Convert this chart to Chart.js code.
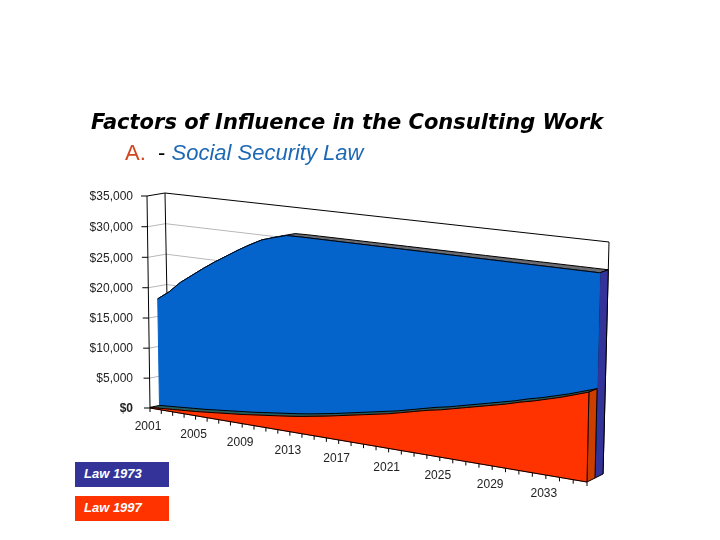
<!DOCTYPE html>
<html>
<head>
<meta charset="utf-8">
<script src="https://cdn.jsdelivr.net/npm/chart.js@4/dist/chart.umd.min.js"></script>
<style>
body { margin: 0; background: #fff; }
#wrap { position: relative; width: 720px; height: 540px; overflow: hidden; }
#wrap div { position: absolute; white-space: nowrap; }
#title { left: 91px; top: 110px; font: italic bold 21px "DejaVu Sans"; color: #000; }
#sub { left: 125px; top: 140px; font: 22px "Liberation Sans"; }
.key { left: 75px; width: 94px; height: 25px; line-height: 24px; color: #fff; font: italic bold 13px/24px "Liberation Sans"; text-indent: 9px; }
</style>
</head>
<body>
<div id="wrap">
  <canvas id="mycanvas" width="720" height="540"></canvas>
  <div id="title">Factors of Influence in the Consulting Work</div>
  <div id="sub"><span style="color:#d2451e">A.</span>&nbsp; - <span style="color:#1c68b4;font-style:italic">Social Security Law</span></div>
  <div class="key" style="top:462px;background:#333399">Law 1973</div>
  <div class="key" style="top:496px;background:#ff3300">Law 1997</div>
</div>
<script>
var years = [];
for (var yr = 2001; yr <= 2036; yr++) years.push(String(yr));

var law1973 = [17900, 19300, 21100, 22500, 23900, 25200, 26400, 27600, 28700, 29700, 30300, 30850,
               30900, 30900, 30900, 30900, 30900, 30900, 30900, 30900, 30900, 30900, 30900, 30900,
               30900, 30900, 30900, 30900, 30900, 30900, 30900, 30900, 30900, 30900, 30900, 30900];
var law1997 = [100, 250, 400, 550, 700, 900, 1100, 1300, 1500, 1750, 2000, 2250,
               2500, 2800, 3150, 3500, 3900, 4300, 4700, 5100, 5500, 6000, 6500, 7000,
               7400, 7900, 8400, 8900, 9400, 9900, 10500, 11000, 11600, 12200, 12900, 13600];

// corners of the front and back planes: bottom left, bottom right, top right, top left
var frontQuad = [[150, 408], [587, 482], [592, 248], [147, 196]];
var backQuad = [[169, 404], [603, 474], [609, 242], [165, 193]];

var makeHomography = function(q) {
    var dx1 = q[1][0] - q[2][0], dx2 = q[3][0] - q[2][0], sx = q[0][0] - q[1][0] + q[2][0] - q[3][0];
    var dy1 = q[1][1] - q[2][1], dy2 = q[3][1] - q[2][1], sy = q[0][1] - q[1][1] + q[2][1] - q[3][1];
    var den = dx1 * dy2 - dx2 * dy1;
    var g = (sx * dy2 - dx2 * sy) / den;
    var h = (dx1 * sy - sx * dy1) / den;
    return function(u, v) {
        var w = g * u + h * v + 1;
        return [
            ((q[1][0] - q[0][0] + g * q[1][0]) * u + (q[3][0] - q[0][0] + h * q[3][0]) * v + q[0][0]) / w,
            ((q[1][1] - q[0][1] + g * q[1][1]) * u + (q[3][1] - q[0][1] + h * q[3][1]) * v + q[0][1]) / w
        ];
    };
};
var frontPlane = makeHomography(frontQuad);
var backPlane = makeHomography(backQuad);

// scale pixel -> position on the slanted 3D box, depth 0 is front, 1 is back
var project = function(chart, px, py, depth) {
    var x = chart.scales.x, y = chart.scales.y;
    var u = (px - x.left) / x.width;
    var v = (y.bottom - py) / y.height;
    var a = frontPlane(u, v), b = backPlane(u, v);
    return [a[0] + (b[0] - a[0]) * depth, a[1] + (b[1] - a[1]) * depth];
};
var at = function(chart, i, value, depth) {
    return project(chart, chart.scales.x.getPixelForValue(i), chart.scales.y.getPixelForValue(value), depth);
};

var poly = function(ctx, pts, fill, stroke) {
    ctx.beginPath();
    pts.forEach(function(p, i) { if (i) ctx.lineTo(p[0], p[1]); else ctx.moveTo(p[0], p[1]); });
    if (fill) { ctx.closePath(); ctx.fillStyle = fill; ctx.fill(); }
    if (stroke) { ctx.strokeStyle = stroke; ctx.lineWidth = 1; ctx.stroke(); }
};

var ribbon = function(chart, values, d1, d2) {
    var pts = [];
    values.forEach(function(v, i) { pts.push(at(chart, i, v, d1)); });
    for (var i = values.length - 1; i >= 0; i--) pts.push(at(chart, i, values[i], d2));
    return pts;
};
var front = function(chart, values, depth) {
    var last = values.length - 1;
    var pts = [at(chart, 0, 0, depth)];
    values.forEach(function(v, i) { pts.push(at(chart, i, v, depth)); });
    pts.push(at(chart, last, 0, depth));
    return pts;
};
var side = function(chart, values, d1, d2) {
    var last = values.length - 1, v = values[last];
    return [at(chart, last, 0, d1), at(chart, last, v, d1), at(chart, last, v, d2), at(chart, last, 0, d2)];
};

var box3d = {
    id: 'box3d',
    afterDatasetsUpdate: function(chart) {
        chart.data.datasets.forEach(function(ds, n) {
            chart.getDatasetMeta(n).data.forEach(function(p) {
                var q = project(chart, p.x, p.y, ds.depth);
                p.x = q[0];
                p.y = q[1];
            });
        });
    },
    beforeDatasetsDraw: function(chart) {
        var ctx = chart.ctx, yScale = chart.scales.y, xScale = chart.scales.x;
        var last = years.length - 1;
        ctx.save();

        // walls and gridlines
        yScale.ticks.forEach(function(t) {
            if (t.value === 0) return;
            var color = t.value === 35000 ? '#000' : '#b8b8b8';
            poly(ctx, [at(chart, 0, t.value, 0), at(chart, 0, t.value, 1), at(chart, last, t.value, 1)], null, color);
        });
        poly(ctx, [at(chart, 0, 35000, 0), at(chart, 0, 0, 0)], null, '#000');
        poly(ctx, [at(chart, 0, 35000, 1), at(chart, 0, 0, 1)], null, '#000');
        poly(ctx, [at(chart, last, 35000, 1), at(chart, last, 0, 1)], null, '#000');

        // back series
        poly(ctx, ribbon(chart, law1973, 0.5, 1), '#6b6b70', '#000');
        poly(ctx, side(chart, law1973, 0.5, 1), '#333399', '#000');
        poly(ctx, front(chart, law1973, 0.5), '#0563cc', '#0563cc');

        // front series
        poly(ctx, ribbon(chart, law1997, 0, 0.5), '#1f5f63', '#000');
        poly(ctx, side(chart, law1997, 0, 0.5), '#cc3d00', '#000');
        poly(ctx, front(chart, law1997, 0), '#ff3300', '#ff3300');
        poly(ctx, [at(chart, 0, 0, 0), at(chart, last, 0, 0)], null, '#000');
        poly(ctx, [at(chart, last, 0, 0), at(chart, last, law1997[last], 0)], null, '#000');

        // y axis ticks and labels
        ctx.textBaseline = 'middle';
        ctx.textAlign = 'right';
        yScale.ticks.forEach(function(t) {
            var p = at(chart, 0, t.value, 0);
            poly(ctx, [[p[0] - 6, p[1]], p], null, '#000');
            ctx.fillStyle = '#222';
            ctx.font = (t.value === 0 ? 'bold ' : '') + '12px "Liberation Sans"';
            ctx.fillText(t.label, 133, p[1] + 1);
        });

        // x axis ticks and labels
        ctx.textAlign = 'center';
        ctx.font = '12px "Liberation Sans"';
        xScale.ticks.forEach(function(t, i) {
            var p = at(chart, i, 0, 0);
            poly(ctx, [p, [p[0], p[1] + 4]], null, '#000');
            if (i % 4 === 0) {
                ctx.fillStyle = '#222';
                ctx.fillText(t.label, p[0] - 2, p[1] + 19);
            }
        });
        ctx.restore();
    }
};

var ctx = document.getElementById('mycanvas');
var chart = new Chart(ctx, {
    type: 'line',
    plugins: [box3d],
    data: {
        labels: years,
        datasets: [
            { label: 'Law 1973', data: law1973, depth: 0.5, borderColor: '#000', borderWidth: 1, pointRadius: 0, fill: false, tension: 0, clip: false },
            { label: 'Law 1997', data: law1997, depth: 0, borderColor: '#000', borderWidth: 1, pointRadius: 0, fill: false, tension: 0, clip: false }
        ]
    },
    options: {
        responsive: false,
        animation: false,
        plugins: { legend: { display: false }, tooltip: { enabled: false } },
        layout: { padding: 0 },
        scales: {
            x: { display: false, ticks: { autoSkip: false } },
            y: {
                display: false,
                min: 0,
                max: 35000,
                ticks: {
                    stepSize: 5000,
                    callback: function(v) { return '$' + Number(v).toLocaleString('en-US'); }
                }
            }
        }
    }
});
</script>
</body>
</html>
